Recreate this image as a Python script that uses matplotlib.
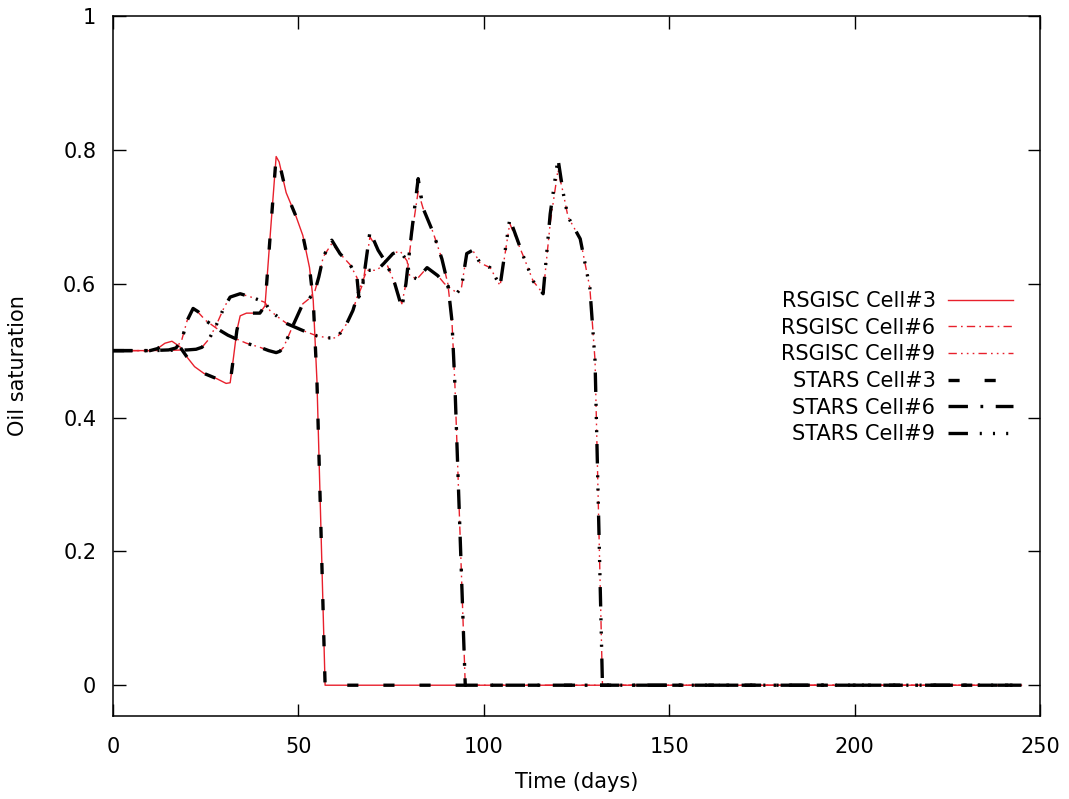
import matplotlib
matplotlib.use("Agg")
import matplotlib.pyplot as plt

plt.rcParams['font.family'] = ['DejaVu Sans']
plt.rcParams['lines.scale_dashes'] = False

# ---- data ----
t3 = [0, 5, 10, 12, 14, 15.9, 18, 20, 22, 24.5, 28, 30.5, 31.6, 32.5, 33.4, 34.3, 36, 39.6, 41, 42.5, 44, 44.8,
      46.7, 49.4, 51.2, 53, 54, 55, 56, 57.2, 60, 245]
stars3 = [0.5, 0.5, 0.5, 0.503, 0.511, 0.514, 0.506, 0.49, 0.476, 0.466, 0.458, 0.451, 0.452, 0.49, 0.53, 0.552,
          0.556, 0.556, 0.567, 0.68, 0.79, 0.782, 0.736, 0.70, 0.672, 0.624, 0.575, 0.455, 0.25, 0.0, 0.0, 0.0]
rsgisc3 = [0.5, 0.5, 0.5, 0.503, 0.511, 0.514, 0.506, 0.49, 0.476, 0.466, 0.458, 0.451, 0.452, 0.49, 0.53, 0.552,
           0.556, 0.556, 0.567, 0.68, 0.79, 0.782, 0.736, 0.70, 0.672, 0.624, 0.575, 0.455, 0.25, 0.0, 0.0, 0.0]

t6 = [0, 10, 15, 17, 18.5, 20, 21.6, 23, 25, 28, 31, 33, 36, 39.6, 42, 44, 45, 46, 48.5, 51.2, 53, 54.5, 55.5,
      56.7, 59, 61.2, 64, 65.8, 66.3, 67.4, 69.3, 71.5, 73.8, 76, 77.9, 79, 80.5, 82.3, 83.6, 86.3, 88.7, 90.3,
      91.4, 92.2, 95, 100, 245]
stars6 = [0.5, 0.5, 0.501, 0.504, 0.515, 0.545, 0.563, 0.558, 0.545, 0.533, 0.523, 0.518, 0.511, 0.505, 0.5,
          0.497, 0.499, 0.505, 0.537, 0.57, 0.578, 0.59, 0.61, 0.64, 0.665, 0.645, 0.628, 0.609, 0.58, 0.6, 0.678,
          0.65, 0.63, 0.6, 0.564, 0.6, 0.675, 0.757, 0.713, 0.677, 0.637, 0.6, 0.545, 0.45, 0.0, 0.0, 0.0]
rsgisc6 = [0.5, 0.5, 0.501, 0.504, 0.515, 0.545, 0.561, 0.557, 0.545, 0.533, 0.523, 0.518, 0.511, 0.505, 0.5,
           0.497, 0.499, 0.505, 0.537, 0.57, 0.578, 0.59, 0.61, 0.64, 0.66, 0.645, 0.628, 0.609, 0.585, 0.6, 0.67,
           0.65, 0.63, 0.6, 0.57, 0.6, 0.67, 0.738, 0.713, 0.677, 0.637, 0.6, 0.545, 0.45, 0.0, 0.0, 0.0]

t9 = [0, 10, 20, 22.4, 24, 26, 28, 30, 31.6, 34.3, 37.8, 41, 42.3, 45, 47, 51.2, 55, 58, 60.4, 63, 64.7, 66.6,
      68.5, 71.2, 73, 75.5, 77.4, 79.3, 80, 82, 84.7, 87.6, 89.4, 92.8, 94, 95.4, 97, 99, 101.7, 104.4, 107,
      110.6, 113.3, 116, 117.9, 120, 121.4, 122.7, 126, 128.6, 130, 132, 135, 245]
stars9 = [0.5, 0.5, 0.501, 0.502, 0.505, 0.518, 0.54, 0.565, 0.58, 0.585, 0.579, 0.572, 0.56, 0.548, 0.54, 0.53,
          0.522, 0.519, 0.519, 0.54, 0.56, 0.594, 0.62, 0.62, 0.63, 0.645, 0.649, 0.634, 0.612, 0.607, 0.624,
          0.612, 0.6, 0.586, 0.595, 0.645, 0.65, 0.631, 0.624, 0.597, 0.697, 0.642, 0.604, 0.585, 0.704, 0.787,
          0.736, 0.70, 0.667, 0.594, 0.485, 0.0, 0.0, 0.0]
rsgisc9 = [0.5, 0.5, 0.501, 0.502, 0.505, 0.518, 0.54, 0.565, 0.58, 0.585, 0.579, 0.572, 0.56, 0.548, 0.54, 0.53,
           0.522, 0.519, 0.519, 0.54, 0.56, 0.594, 0.62, 0.62, 0.63, 0.645, 0.649, 0.634, 0.612, 0.607, 0.624,
           0.612, 0.6, 0.586, 0.595, 0.645, 0.65, 0.631, 0.624, 0.597, 0.69, 0.642, 0.604, 0.585, 0.69, 0.77,
           0.736, 0.70, 0.667, 0.594, 0.485, 0.0, 0.0, 0.0]

labels = ["RSGISC Cell#3", "RSGISC Cell#6", "RSGISC Cell#9",
          "STARS Cell#3", "STARS Cell#6", "STARS Cell#9"]
xticks = [0, 50, 100, 150, 200, 250]
yticks = [0, 0.2, 0.4, 0.6, 0.8, 1]
ytick_labels = ["0", "0.2", "0.4", "0.6", "0.8", "1"]

# ---- figure ----
W, H = 1069, 799
FS = 15
fig = plt.figure(figsize=(W / 100, H / 100), dpi=100)
ax = fig.add_axes([113 / W, 1 - 716 / H, (1040 - 113) / W, (716 - 16) / H])

red = '#e8202c'
ax.plot(t3, rsgisc3, color=red, lw=1.0, label=labels[0])
ax.plot(t6, rsgisc6, color=red, lw=1.0, dashes=(6, 3, 1.2, 3), label=labels[1])
ax.plot(t9, rsgisc9, color=red, lw=1.0, dashes=(6, 3, 1.2, 3, 1.2, 3, 1.2, 3), label=labels[2])
ax.plot(t3, stars3, color='black', lw=2.4, dashes=(8, 18), label=labels[3])
ax.plot(t6, stars6, color='black', lw=2.4, dashes=(14, 9, 2, 9), label=labels[4])
ax.plot(t9, stars9, color='black', lw=2.4, dashes=(14, 8.5, 1.5, 8, 1.5, 8, 1.5, 8.5), label=labels[5])

ax.set_xlim(0, 250)
ax.set_ylim(-0.046, 1)
ax.set_xticks(xticks)
ax.set_yticks(yticks)
ax.set_yticklabels(ytick_labels)
ax.tick_params(direction='in', length=9, width=1, top=True, right=True, labelsize=FS, colors='black')
ax.tick_params(axis='x', pad=15)
ax.tick_params(axis='y', pad=12)
for s in ax.spines.values():
    s.set_linewidth(1.1)
    s.set_color('black')

ax.set_xlabel("Time (days)", fontsize=FS, labelpad=11)
ax.set_ylabel("Oil saturation", fontsize=FS, labelpad=25)

leg = ax.legend(loc='upper right', bbox_to_anchor=(1013 / W, 1 - 291 / H), bbox_transform=fig.transFigure,
                frameon=False, markerfirst=False, fontsize=FS, handlelength=3.1, handletextpad=0.62,
                labelspacing=0.32, borderpad=0, borderaxespad=0)

fig.savefig("out.png", dpi=100)
